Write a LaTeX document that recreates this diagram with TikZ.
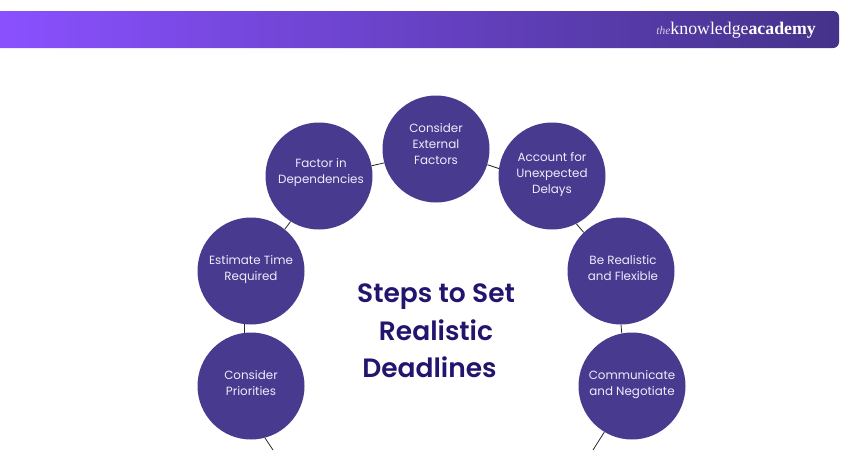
\documentclass[tikz,border=0pt]{standalone}
\usepackage{fontspec}
\setmainfont{Poppins}
\newfontfamily\logofont{Liberation Serif}
\newfontfamily\titlefont{Poppins SemiBold}
\definecolor{circ}{HTML}{483A8F}
\definecolor{titlec}{HTML}{22156E}
\definecolor{barl}{HTML}{8A50FF}
\definecolor{barr}{HTML}{44338A}
\definecolor{ctext}{HTML}{EFECFA}
\tikzset{
  stepcircle/.style={circle,fill=circ,minimum size=107pt,inner sep=0pt},
  steptext/.style={inner sep=0pt,align=center,text=ctext,font=\fontsize{11.9}{16}\selectfont},
  link/.style={draw=black!85,line width=0.8pt}
}
\begin{document}
\begin{tikzpicture}[x=1pt,y=-1pt]
\useasboundingbox (0,0) rectangle (850,450);
\fill[white] (0,0) rectangle (850,450);
\shade[left color=barl,right color=barr] (0,11) [rounded corners=6pt] -- (839,11) -- (839,48) [sharp corners] -- (0,48) -- cycle;
\node[anchor=east,inner sep=0pt,text=white,font=\logofont\fontsize{17.8}{18}\selectfont] (logo) at (816,30) {{\fontsize{11.5}{11}\selectfont\itshape\color{white!75!barr}the}knowledge\textbf{academy}};
\node[stepcircle,label={[steptext,yshift=3pt]center:Consider\\Priorities}] (prio) at (251,386) {};
\node[stepcircle,label={[steptext,yshift=1pt]center:Estimate Time\\Required}] (est) at (251,271) {};
\node[stepcircle,label={[steptext,yshift=3pt,xshift=2pt]center:Factor in\\Dependencies}] (dep) at (319,176) {};
\node[stepcircle,label={[steptext,yshift=5pt]center:Consider\\External\\Factors}] (ext) at (436,149) {};
\node[stepcircle,label={[steptext,yshift=2pt]center:Account for\\Unexpected\\Delays}] (acc) at (552,176) {};
\node[stepcircle,label={[steptext,yshift=3pt,xshift=2pt]center:Be Realistic\\and Flexible}] (real) at (621,271) {};
\node[stepcircle,label={[steptext,yshift=1pt]center:Communicate\\and Negotiate}] (comm) at (632,386) {};
\node[inner sep=0pt,align=center,text=titlec,font=\titlefont\fontsize{26.5}{37.5}\selectfont] (title) at (436,331) {Steps to Set\\Realistic\\Deadlines\kern13pt\mbox{}};
\coordinate (endl) at (273,450);
\coordinate (endr) at (593,450);
\draw[link] (prio.97) -- (est.263);
\draw[link] (est.51) -- (dep.238);
\draw[link] (dep.11) -- (ext.195);
\draw[link] (ext.-17) -- (acc.172);
\draw[link] (acc.-63) -- (real.134);
\draw[link] (real.-90) -- (comm.101);
\draw[link] (comm.239) -- (endr);
\draw[link] (prio.-75) -- (endl);
\end{tikzpicture}
\end{document}
